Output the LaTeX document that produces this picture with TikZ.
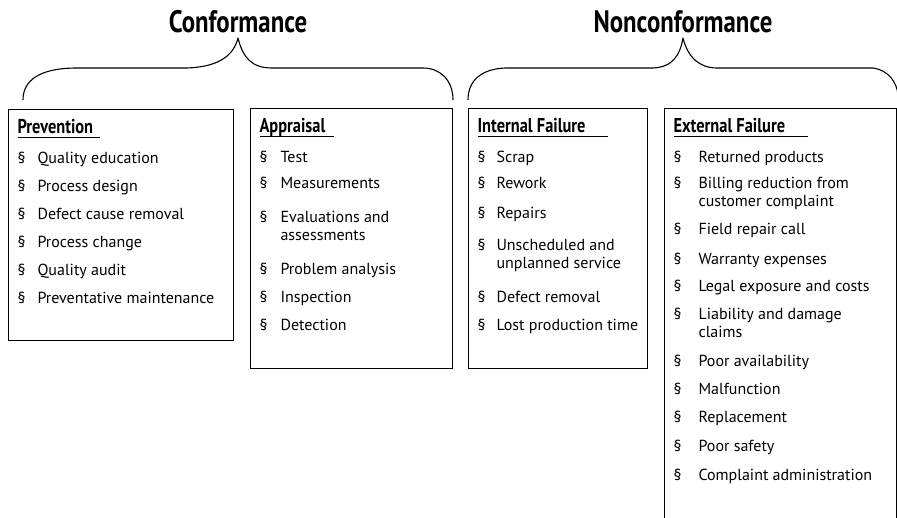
\documentclass[tikz,border=0pt]{standalone}
\usepackage{fontspec}
\setmainfont{PT Sans}
\newfontfamily\condfont[FakeStretch=0.8]{PT Sans}
\newfontfamily\headfont[FakeStretch=0.82]{PT Sans}
\usetikzlibrary{positioning}

% heading of a cost box, underlined past its text
\newcommand{\costhead}[2]{\noindent\rule{0pt}{24pt}\makebox[0pt][l]{\headfont\bfseries\fontsize{20}{20}\selectfont #1}\rule[-4.5pt]{#2}{0.8pt}\par\vspace{2pt}}
% one bullet of a cost box
\newcommand{\costitem}[2][20pt]{\par\hangindent=#1\hangafter=1\noindent\makebox[#1][l]{\S}#2\par}
% contents of a cost box: width, height, lines
\newcommand{\costlist}[3]{\hspace*{9pt}\parbox[t][#2][t]{#1}{\raggedright\fontsize{16}{18}\selectfont\parskip=10pt #3}}

\begin{document}
\begin{tikzpicture}[
    x=1pt,y=-1pt,
    grouptitle/.style={font=\condfont\bfseries\fontsize{31}{32}\selectfont,inner sep=0pt},
    costbox/.style={draw,line width=1.1pt,anchor=north west,inner sep=0pt},
    brace/.style={line width=1.1pt,line join=round}
  ]
    \useasboundingbox (0,0) rectangle (897,517);
    \clip (0,0) rectangle (897,517);

    \node[grouptitle] (conformance) at (238,22) {Conformance};
    \node[grouptitle] (nonconformance) at (683,22) {Nonconformance};

    % braces
    \draw[brace] (23,100) .. controls (23,80) and (40,68) .. (77,68) -- (187,68)
      .. controls (215,67) and (233,58) .. (238,38)
      .. controls (243,58) and (252,68) .. (272,68) -- (423,68)
      .. controls (440,68) and (453,80) .. (453,100);
    \draw[brace] (468,100) .. controls (468,80) and (482,69) .. (505,68) -- (653,68)
      .. controls (673,67) and (680,55) .. (683,38)
      .. controls (688,58) and (700,68) .. (717,68) -- (873,68)
      .. controls (888,70) and (897,82) .. (898,95);

    \node[costbox] (prevention) at (8,109) {\costlist{216pt}{231pt}{%
      \costhead{Prevention}{82pt}
      \costitem{Quality education}
      \costitem{Process design}
      \costitem{Defect cause removal}
      \costitem{Process change}
      \costitem{Quality audit}
      \costitem{Preventative maintenance}}};
    \node[costbox] (appraisal) at (250,108) {\costlist{193pt}{260pt}{%
      \costhead{Appraisal}{74pt}
      \costitem[21pt]{Test}
      \vspace{-2pt}
      \costitem[21pt]{Measurements}
      \vspace{6pt}
      \costitem[21pt]{Evaluations and\newline assessments}
      \vspace{6pt}
      \costitem[21pt]{Problem analysis}
      \costitem[21pt]{Inspection}
      \costitem[21pt]{Detection}}};
    \node[costbox] (internal) at (468,108) {\costlist{170pt}{260pt}{%
      \costhead{Internal Failure}{130pt}
      \costitem[19pt]{Scrap}
      \vspace{-2pt}
      \costitem[19pt]{Rework}
      \vspace{2pt}
      \costitem[19pt]{Repairs}
      \vspace{4pt}
      \costitem[19pt]{Unscheduled and\newline unplanned service}
      \vspace{6pt}
      \costitem[19pt]{Defect removal}
      \costitem[19pt]{Lost production time}}};
    \node[costbox] (external) at (664,108) {\costlist{223pt}{430pt}{%
      \costhead{External Failure}{134pt}
      \costitem[25pt]{Returned products}
      \vspace{-2pt}
      \costitem[25pt]{Billing reduction from\newline customer complaint}
      \costitem[25pt]{Field repair call}
      \vspace{2pt}
      \costitem[25pt]{Warranty expenses}
      \vspace{-1pt}
      \costitem[25pt]{Legal exposure and costs}
      \costitem[25pt]{Liability and damage\newline claims}
      \vspace{1pt}
      \costitem[25pt]{Poor availability}
      \costitem[25pt]{Malfunction}
      \costitem[25pt]{Replacement}
      \vspace{1pt}
      \costitem[25pt]{Poor safety}
      \vspace{1pt}
      \costitem[25pt]{Complaint administration}}};
  \end{tikzpicture}
\end{document}
